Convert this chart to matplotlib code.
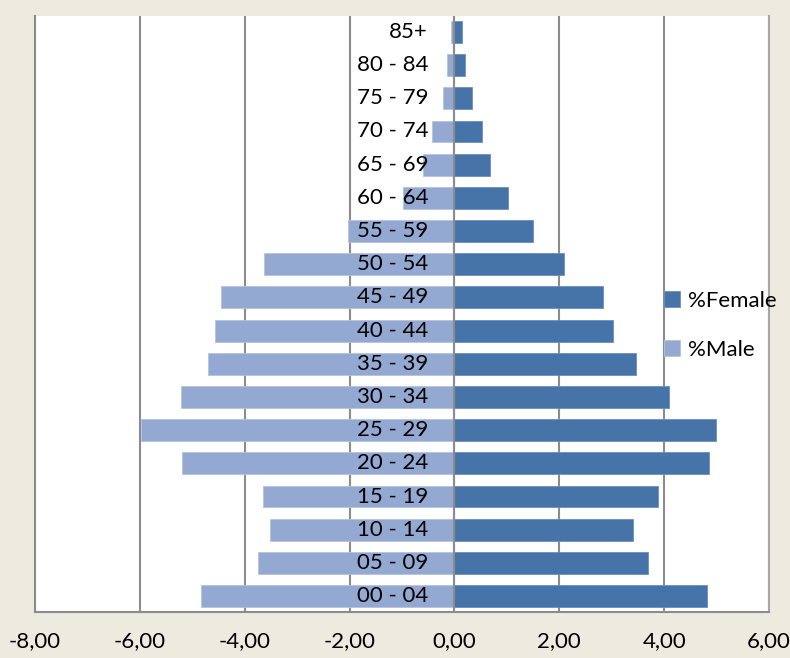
import matplotlib.pyplot as plt
from matplotlib.ticker import FuncFormatter

# Age groups from youngest to oldest
age_groups = ["00 - 04", "05 - 09", "10 - 14", "15 - 19", "20 - 24", "25 - 29",
              "30 - 34", "35 - 39", "40 - 44", "45 - 49", "50 - 54", "55 - 59",
              "60 - 64", "65 - 69", "70 - 74", "75 - 79", "80 - 84", "85+"]

pct_female = [4.81, 3.69, 3.40, 3.88, 4.85, 4.99, 4.09, 3.46, 3.03, 2.83,
              2.09, 1.49, 1.03, 0.68, 0.53, 0.34, 0.20, 0.15]
pct_male = [-4.84, -3.74, -3.52, -3.65, -5.20, -5.97, -5.21, -4.70, -4.56,
            -4.45, -3.63, -2.03, -0.98, -0.59, -0.43, -0.22, -0.14, -0.07]

female_color = "#4674A9"
male_color = "#94A9D2"
grid_color = "#8C8C8C"

plt.rcParams["font.family"] = ["Lato", "DejaVu Sans"]

fig = plt.figure(figsize=(7.9, 6.58), dpi=100, facecolor="#EDEAE0")
ax = fig.add_axes([35 / 790, 46 / 658, 734 / 790, 596 / 658])
ax.set_facecolor("white")

y = list(range(len(age_groups)))
ax.barh(y, pct_female, height=0.66, color=female_color, edgecolor="#6A8FC0",
        linewidth=0.6, label="%Female", zorder=3)
ax.barh(y, pct_male, height=0.66, color=male_color, edgecolor="#B4C3E0",
        linewidth=0.6, label="%Male", zorder=3)

# category labels sit just left of the zero line, on top of the bars
for yi, lab in zip(y, age_groups):
    ax.annotate(lab, xy=(0, yi), xytext=(-19, 0), textcoords="offset points",
                ha="right", va="center", fontsize=16, color="black", zorder=5)

ax.axvline(0, color=grid_color, linewidth=1.5, zorder=4)

ax.set_xlim(-8, 6)
ax.set_ylim(-0.48, len(age_groups) - 0.52)
ax.set_xticks(range(-8, 7, 2))
ax.xaxis.set_major_formatter(FuncFormatter(lambda v, p: f"{v:.2f}".replace(".", ",")))
ax.set_yticks([])
ax.tick_params(axis="x", length=0, labelsize=16, pad=14)
ax.grid(axis="x", color=grid_color, linewidth=1.5, zorder=1)
ax.set_axisbelow(True)

for side in ["left", "bottom", "right"]:
    ax.spines[side].set_color(grid_color)
    ax.spines[side].set_linewidth(1.5)
ax.spines["right"].set_color("#A6A6A6")
ax.spines["top"].set_visible(False)

ax.legend(loc="upper left", bbox_to_anchor=(664 / 790, 367 / 658),
          bbox_transform=fig.transFigure, frameon=False, fontsize=16,
          handlelength=0.7, handleheight=0.7, handletextpad=0.4,
          labelspacing=1.3, borderaxespad=0, borderpad=0)

fig.savefig("out.png", dpi=100, facecolor=fig.get_facecolor())
